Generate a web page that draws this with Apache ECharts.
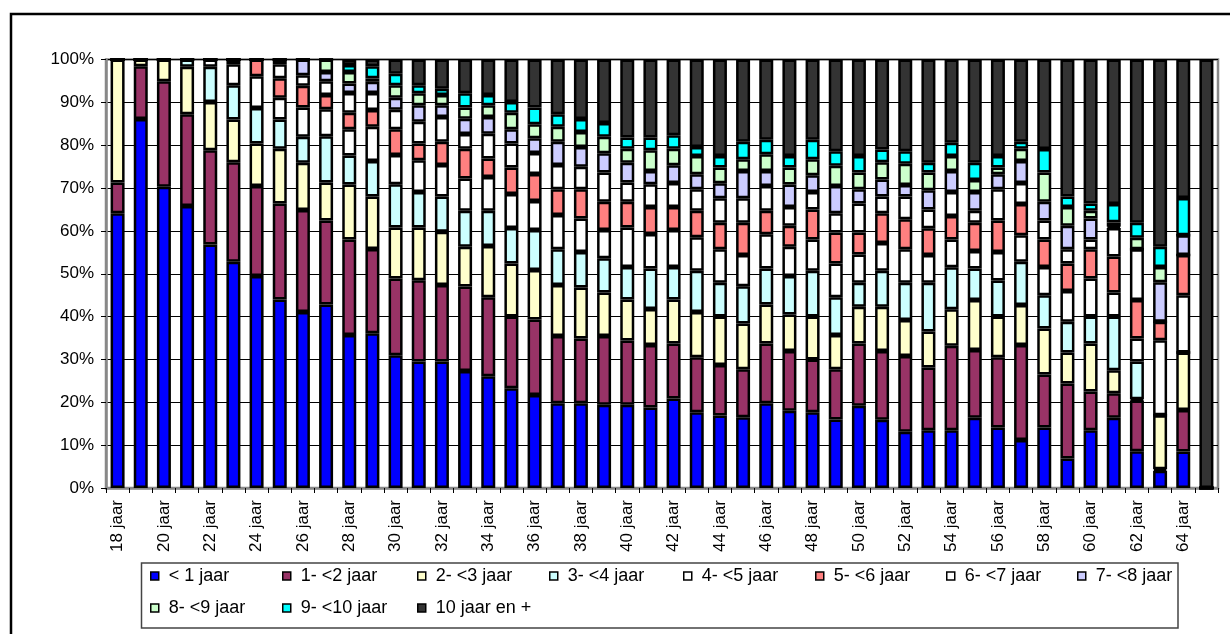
<!DOCTYPE html>
<html>
<head>
<meta charset="utf-8">
<script src="https://cdn.jsdelivr.net/npm/echarts@6/dist/echarts.min.js"></script>
<style>
html,body{margin:0;padding:0;background:#fff;}
#chart{width:1230px;height:634px;}
</style>
</head>
<body>
<div id="chart"></div>
<script>
var ages = [];
for (var a = 18; a <= 65; a++) ages.push(a + ' jaar');

var seriesNames = ['< 1 jaar','1- <2 jaar','2- <3 jaar','3- <4 jaar','4- <5 jaar','5- <6 jaar','6- <7 jaar','7- <8 jaar','8- <9 jaar','9- <10 jaar','10 jaar en +'];
var seriesColors = ['#0000FF','#993366','#FFFFCC','#CCFFFF','#FFFFFF','#FF8080','#FFFFFF','#CCCCFF','#CCFFCC','#00FFFF','#333333'];

var lt1 = [64.1,86.1,70.3,65.8,56.8,52.8,49.5,44.0,41.1,42.8,35.7,36.1,31.0,29.5,29.5,27.3,26.1,23.3,21.7,19.8,19.8,19.4,19.4,18.8,20.9,17.7,16.9,16.5,19.8,18.0,17.7,16.0,19.2,15.9,13.1,13.5,13.5,16.4,14.1,11.2,14.1,6.9,13.5,16.4,8.6,4.0,8.5,0];
var y1to2 = [7.2,12.3,24.6,21.4,22.0,23.2,21.0,22.4,23.8,19.6,22.3,19.7,17.9,19.0,17.9,19.7,18.4,16.7,17.6,15.7,15.1,16.1,15.0,14.6,12.8,12.8,11.8,11.2,13.9,14.0,12.3,11.7,14.5,16.1,17.7,14.6,19.7,15.8,16.4,22.2,12.4,17.5,9.0,5.7,11.8,0.4,9.7,0];
var y2to3 = [28.7,1.6,5.1,11.1,11.3,10.0,9.9,12.8,11.0,8.9,12.8,12.2,11.9,12.3,12.4,9.3,12.0,12.4,11.6,11.9,11.9,10.1,9.6,8.4,10.3,10.6,11.3,10.7,9.1,8.5,10.0,8.0,8.6,10.3,8.4,8.4,8.5,11.7,9.5,9.3,10.7,7.2,11.2,5.4,0.3,12.6,13.4,0];
var y3to4 = [0,0,0,1.7,8.2,8.0,8.3,6.8,6.1,10.8,6.8,8.3,10.1,8.3,8.2,8.4,8.2,8.3,9.3,8.3,8.3,8.0,7.6,9.4,7.6,9.6,7.9,8.7,8.4,9.0,10.7,8.8,5.6,8.4,8.7,11.4,9.8,7.3,8.4,10.1,7.8,7.2,6.3,12.5,8.8,0,0,0];
var y4to5 = [0,0,0,0,1.7,4.9,7.4,5.1,6.8,6.3,6.1,8.0,6.8,7.4,7.4,7.5,7.9,7.9,6.8,8.0,7.8,6.6,9.2,8.1,8.6,7.8,7.8,7.3,8.0,6.8,7.3,7.9,6.6,6.5,7.8,6.5,6.5,4.1,6.7,6.2,6.6,7.2,8.9,5.6,5.4,17.5,13.4,0];
var y5to6 = [0,0,0,0,0,1.1,3.9,4.5,5.1,3.3,3.9,3.9,6.0,3.9,5.4,7.0,4.3,6.2,6.3,6.0,6.8,6.6,6.0,6.3,5.4,6.2,6.2,7.5,5.5,4.9,7.0,7.2,5.1,6.9,7.0,6.2,5.5,6.6,7.3,7.3,6.4,6.4,6.8,8.4,9.0,4.3,9.4,0];
var y6to7 = [0,0,0,0,0,0,0,3.3,2.4,3.2,4.6,4.0,4.6,5.1,5.8,3.4,5.8,5.6,4.9,5.7,5.3,6.8,4.5,5.3,5.6,5.0,5.7,5.7,5.8,4.4,4.1,4.5,6.8,3.9,5.3,4.4,5.6,2.8,7.3,4.9,4.4,3.3,2.3,6.7,11.8,0,0,0];
var y7to8 = [0,0,0,0,0,0,0,1.1,3.7,2.2,2.2,2.6,2.8,3.8,2.7,3.6,3.9,3.3,3.4,5.4,4.6,4.5,4.6,3.1,4.1,3.5,3.5,6.4,3.5,5.2,3.9,6.4,3.3,4.0,2.7,4.5,4.9,4.4,3.5,5.1,4.4,5.5,4.9,0.3,0,9.2,4.6,0];
var y8to9 = [0,0,0,0,0,0,0,0,0,2.9,2.7,0.8,2.9,2.8,2.4,2.6,2.7,3.9,3.3,3.5,3.5,3.9,3.3,4.8,3.9,4.3,3.7,2.7,3.9,4.0,3.7,4.7,3.9,4.0,5.0,4.1,3.5,2.8,1.6,2.9,6.8,4.4,1.8,1.0,2.7,3.6,0,0];
var y9to10 = [0,0,0,0,0,0,0,0,0,0,1.6,2.8,2.7,1.9,1.5,3.3,2.4,2.5,3.9,2.9,3.0,3.2,2.6,3.0,3.1,2.1,2.7,4.1,3.4,2.7,4.6,3.4,3.9,3.0,2.9,2.3,3.1,4.0,2.7,1.6,5.5,2.4,1.7,4.3,3.5,4.7,8.7,0];
var y10plus = [0,0,0,0,0,0,0,0,0,0,1.3,1.6,3.3,6.0,6.8,7.9,8.3,9.9,11.2,12.8,13.9,14.8,18.2,18.2,17.7,20.4,22.5,19.2,18.7,22.5,18.7,21.4,22.5,21.0,21.4,24.1,19.4,24.1,22.5,19.2,20.9,32.0,33.6,33.7,38.1,43.7,32.3,100];

var yTicks = [0,10,20,30,40,50,60,70,80,90,100];

var allData = [lt1,y1to2,y2to3,y3to4,y4to5,y5to6,y6to7,y7to8,y8to9,y9to10,y10plus];
var FONT = '"Liberation Sans", Arial, sans-serif';

var series = allData.map(function(d, i){
  return {
    name: seriesNames[i],
    type: 'bar',
    stack: 'total',
    barWidth: 14,
    data: d,
    itemStyle: {color: seriesColors[i], borderColor: '#000', borderWidth: 2.5},
    emphasis: {disabled: true},
    animation: false
  };
});

var legendX = [150, 282, 417, 549, 683, 815, 946, 1077];
var legends = seriesNames.map(function(n, i){
  var row = i < 8 ? 0 : 1;
  var col = i < 8 ? i : i - 8;
  return {
    data: [n],
    left: legendX[col],
    top: row === 0 ? 567 : 599,
    padding: 0,
    itemWidth: 8,
    itemHeight: 8,
    icon: 'rect',
    selectedMode: false,
    itemStyle: {borderColor: '#000', borderWidth: 1.5},
    textStyle: {fontFamily: FONT, fontSize: 18, color: '#000', padding: [0,0,0,5]}
  };
});

var chart = echarts.init(document.getElementById('chart'), null, {renderer: 'canvas'});
chart.setOption({
  animation: false,
  backgroundColor: '#fff',
  grid: {left: 106, right: 12, top: 59.5, bottom: 146, show: true, borderColor: '#888', borderWidth: 2.5, backgroundColor: 'transparent'},
  legend: legends,
  graphic: [
    {type: 'rect', shape: {x: 11, y: 14, width: 1300, height: 700}, style: {fill: 'none', stroke: '#000', lineWidth: 2.5}, silent: true, z: -1},
    {type: 'rect', shape: {x: 141.5, y: 563, width: 1036.5, height: 65}, style: {fill: 'none', stroke: '#444', lineWidth: 1.5}, silent: true, z: -1}
  ],
  xAxis: {
    type: 'category',
    data: ages,
    boundaryGap: true,
    axisLine: {show: true, lineStyle: {color: '#888', width: 2.5}},
    axisTick: {show: true, interval: 0, length: 5, lineStyle: {color: '#000', width: 1}},
    axisLabel: {interval: 1, rotate: 90, margin: 12, fontFamily: FONT, fontSize: 17, color: '#000'},
    splitLine: {show: false}
  },
  yAxis: {
    type: 'value',
    min: yTicks[0],
    max: yTicks[yTicks.length - 1],
    interval: 10,
    axisLine: {show: true, lineStyle: {color: '#888', width: 2.5}},
    axisTick: {show: true, length: 5, lineStyle: {color: '#000', width: 1}},
    axisLabel: {formatter: '{value}%', margin: 12, fontFamily: FONT, fontSize: 17, color: '#000'},
    splitLine: {show: true, lineStyle: {color: '#000', width: 1}}
  },
  series: series
});
</script>
</body>
</html>
